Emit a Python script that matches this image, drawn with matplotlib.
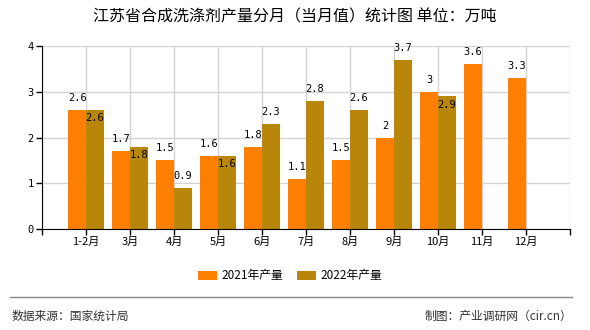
import numpy as np
import matplotlib
matplotlib.use('Agg')
import matplotlib.pyplot as plt
from matplotlib.lines import Line2D

plt.rcParams['font.family'] = ['Noto Sans CJK SC', 'DejaVu Sans']

# dati
mesi = ['1-2月', '3月', '4月', '5月', '6月', '7月', '8月', '9月', '10月', '11月', '12月']
prod_2021 = [2.6, 1.7, 1.5, 1.6, 1.8, 1.1, 1.5, 2, 3, 3.6, 3.3]
prod_2022 = [2.6, 1.8, 0.9, 1.6, 2.3, 2.8, 2.6, 3.7, 2.9, None, None]

col_2021 = '#FF8000'
col_2022 = '#B8860B'

fig = plt.figure(figsize=(5.9, 3.3), dpi=100)
ax = fig.add_axes([42 / 590, 101 / 330, 528 / 590, 183 / 330])

x = np.arange(1, len(mesi) + 1)
v21 = np.array(prod_2021, dtype=float)
v22 = np.array([np.nan if v is None else v for v in prod_2022], dtype=float)

larg = 0.4
ax.bar(x - larg / 2, v21, width=larg, color=col_2021, label='2021年产量', zorder=3)
ax.bar(x + larg / 2, v22, width=larg, color=col_2022, label='2022年产量', zorder=3)


def fmt(v):
    return ('%g' % v)


# etichette dei valori
for xi, a, b in zip(x, v21, v22):
    ax.annotate(fmt(a), (xi - larg / 2, a), xytext=(0, 8.6), textcoords='offset points',
                ha='center', va='center', fontsize=7.5, family='DejaVu Sans Mono', zorder=4)
    if np.isnan(b):
        continue
    # se si sovrappone alla etichetta 2021 va dentro la barra
    if abs(a - b) < 0.15:
        dy = -6
    else:
        dy = 8.6
    ax.annotate(fmt(b), (xi + larg / 2, b), xytext=(0, dy), textcoords='offset points',
                ha='center', va='center', fontsize=7.5, family='DejaVu Sans Mono', zorder=4)

ax.set_xlim(0, len(mesi) + 1)
ax.set_ylim(0, 4)
ax.set_xticks(np.arange(0, len(mesi) + 2))
ax.set_xticklabels([''] + mesi + [''], fontsize=8)
ax.set_yticks([0, 1, 2, 3, 4])
ax.set_yticklabels(['0', '1', '2', '3', '4'], family='DejaVu Sans Mono', fontsize=7.5)
ax.tick_params(axis='x', length=4, width=1, pad=2)
ax.tick_params(axis='y', length=4, width=1, pad=2)

ax.grid(True, color='#D3D3D3', linewidth=1, zorder=0)
for lato in ['top', 'right']:
    ax.spines[lato].set_visible(False)
for lato in ['left', 'bottom']:
    ax.spines[lato].set_color('black')
    ax.spines[lato].set_zorder(5)

fig.text(0.5, 0.948, '江苏省合成洗涤剂产量分月（当月值）统计图 单位：万吨',
         ha='center', va='center', fontsize=11.5)

fig.legend(loc='center', bbox_to_anchor=(0.492, 0.164), ncol=2, frameon=False,
           fontsize=8.5, handlelength=1.6, handleheight=0.8, columnspacing=1.2,
           handletextpad=0.4)

fig.add_artist(Line2D([10 / 590, 572 / 590], [0.1, 0.1], color='#888888', linewidth=1))
fig.text(12 / 590, 0.042, '数据来源：国家统计局', ha='left', va='center', fontsize=8.5, color='#333333')
fig.text(572 / 590, 0.042, '制图：产业调研网（cir.cn）', ha='right', va='center', fontsize=8.5, color='#333333')

fig.savefig('out.png', dpi=100)
